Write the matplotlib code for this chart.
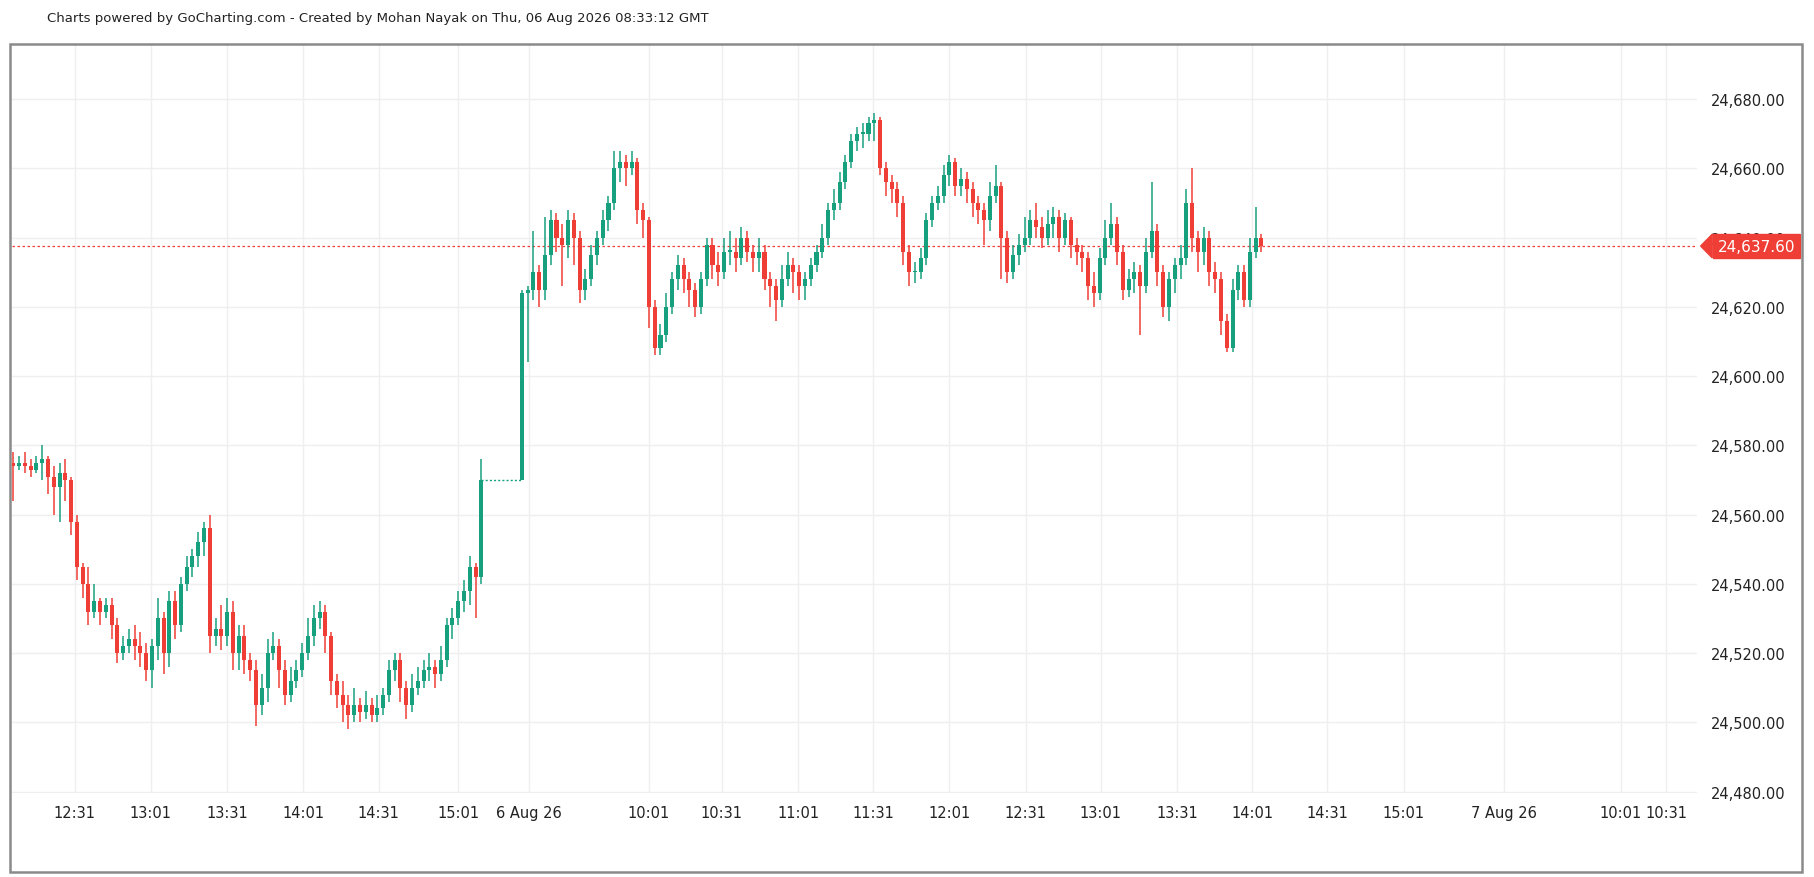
import matplotlib
matplotlib.use("Agg")
import matplotlib.pyplot as plt
from matplotlib.patches import Rectangle, Polygon
import matplotlib.transforms as mtransforms

# ---- Day 1 (5 Aug) candles ----
d1_open = [24575,24574,24575,24574,24573,24575,24576,24571,24568,24572,24570,24558,24545,24540,24532,24535,24532,24534,24528,24520,
           24522,24524,24522,24520,24515,24522,24530,24520,24535,24528,24540,24545,24548,24552,24556,24525,24527,24525,24532,24520,
           24525,24518,24515,24505,24510,24520,24522,24515,24508,24512,24515,24520,24525,24530,24532,24525,24512,24508,24505,24502,
           24505,24503,24505,24502,24504,24508,24515,24518,24510,24505,24510,24512,24515,24516,24514,24518,24528,24530,24535,24538,
           24545,24542]
d1_close = [24574,24575,24574,24573,24575,24576,24571,24568,24572,24570,24558,24545,24540,24532,24535,24532,24534,24528,24520,24522,
            24524,24522,24520,24515,24522,24530,24520,24535,24528,24540,24545,24548,24552,24556,24525,24527,24525,24532,24520,24525,
            24518,24515,24505,24510,24520,24522,24515,24508,24512,24515,24520,24525,24530,24532,24525,24512,24508,24505,24502,24505,
            24503,24505,24502,24504,24508,24515,24518,24510,24505,24510,24512,24515,24516,24514,24518,24528,24530,24535,24538,24545,
            24542,24570]
d1_high = [24578,24577,24578,24576,24577,24580,24577,24574,24575,24576,24571,24560,24546,24545,24540,24536,24536,24536,24530,24525,
           24527,24528,24526,24523,24524,24536,24532,24538,24538,24542,24548,24550,24555,24558,24560,24530,24534,24536,24535,24528,
           24528,24520,24518,24514,24524,24526,24524,24518,24516,24518,24523,24530,24534,24535,24534,24526,24514,24512,24508,24510,
           24507,24509,24507,24508,24510,24518,24520,24520,24512,24514,24516,24518,24520,24518,24522,24530,24533,24538,24541,24548,
           24546,24576]
d1_low = [24564,24573,24572,24571,24572,24570,24566,24560,24558,24564,24554,24541,24536,24528,24530,24528,24530,24524,24517,24518,
          24520,24518,24516,24512,24510,24518,24514,24516,24524,24526,24538,24542,24545,24548,24520,24522,24521,24522,24515,24515,
          24514,24512,24499,24502,24506,24518,24510,24505,24506,24510,24513,24518,24522,24527,24520,24508,24504,24500,24498,24500,
          24500,24501,24500,24500,24502,24506,24512,24506,24501,24503,24508,24510,24512,24510,24512,24516,24524,24528,24532,24534,
          24530,24540]

# ---- Day 2 (6 Aug) candles ----
d2_open = [24570,24624,24625,24630,24625,24635,24645,24640,24638,24645,24640,24625,24628,24635,24640,24645,24650,24660,24662,24660,
           24662,24648,24645,24620,24608,24612,24620,24628,24632,24628,24625,24620,24628,24638,24632,24630,24636,24636,24634,24640,
           24636,24634,24636,24628,24626,24622,24628,24632,24630,24626,24628,24632,24636,24640,24648,24650,24656,24662,24668,24670,
           24670,24673,24674,24660,24656,24654,24650,24636,24630,24630,24634,24645,24650,24652,24658,24662,24655,24657,24654,24650,
           24648,24645,24652,24655,24640,24630,24635,24638,24640,24645,24643,24640,24644,24646,24640,24645,24638,24636,24634,24626,
           24624,24634,24640,24644,24636,24625,24628,24630,24626,24636,24642,24630,24620,24628,24632,24634,24650,24640,24636,24640,
           24630,24628,24616,24608,24625,24630,24622,24636,24640]
d2_close = [24624,24625,24630,24625,24635,24645,24640,24638,24645,24640,24625,24628,24635,24640,24645,24650,24660,24662,24660,24662,
            24648,24645,24620,24608,24612,24620,24628,24632,24628,24625,24620,24628,24638,24632,24630,24636,24636,24634,24640,24636,
            24634,24636,24628,24626,24622,24628,24632,24630,24626,24628,24632,24636,24640,24648,24650,24656,24662,24668,24670,24670,
            24673,24674,24660,24656,24654,24650,24636,24630,24630,24634,24645,24650,24652,24658,24662,24655,24657,24654,24650,24648,
            24645,24652,24655,24640,24630,24635,24638,24640,24645,24643,24640,24644,24646,24640,24645,24638,24636,24634,24626,24624,
            24634,24640,24644,24636,24625,24628,24630,24626,24636,24642,24630,24620,24628,24632,24634,24650,24640,24636,24640,24630,
            24628,24616,24608,24625,24630,24622,24636,24640,24637.6]
d2_high = [24625,24626,24642,24632,24646,24648,24647,24644,24648,24647,24642,24631,24638,24642,24648,24652,24665,24665,24664,24665,
           24663,24650,24646,24622,24615,24624,24630,24635,24634,24630,24627,24630,24640,24640,24636,24640,24642,24640,24643,24642,
           24638,24640,24638,24630,24628,24632,24636,24634,24632,24630,24634,24638,24644,24650,24654,24659,24664,24670,24672,24673,
           24675,24676,24675,24662,24658,24656,24652,24638,24633,24637,24647,24652,24655,24661,24664,24663,24660,24659,24656,24652,
           24650,24656,24661,24656,24642,24638,24641,24646,24648,24650,24646,24648,24649,24648,24647,24646,24640,24638,24636,24630,
           24637,24645,24650,24646,24638,24631,24633,24632,24640,24656,24644,24632,24630,24634,24638,24654,24660,24642,24643,24642,
           24633,24630,24618,24628,24632,24632,24640,24649,24641]
d2_low = [24570,24604,24622,24620,24622,24632,24636,24626,24634,24632,24621,24622,24626,24632,24638,24642,24648,24656,24655,24658,
          24644,24640,24614,24606,24606,24610,24618,24625,24624,24620,24617,24618,24626,24628,24626,24628,24632,24630,24632,24633,
          24630,24630,24625,24620,24616,24620,24626,24624,24622,24622,24626,24630,24634,24638,24645,24648,24654,24660,24665,24666,
          24668,24668,24658,24652,24650,24646,24632,24626,24627,24628,24632,24643,24648,24650,24655,24652,24652,24650,24646,24644,
          24638,24642,24650,24628,24627,24628,24632,24636,24638,24640,24637,24638,24640,24636,24638,24634,24632,24630,24622,24620,
          24622,24632,24638,24632,24622,24623,24624,24612,24624,24634,24626,24617,24616,24624,24628,24632,24636,24630,24632,24626,
          24624,24612,24607,24607,24622,24620,24620,24634,24636]

last_price = 24637.6
y_ticks = [24480, 24500, 24520, 24540, 24560, 24580, 24600, 24620, 24640, 24660, 24680]
x_tick_labels = ["12:31", "13:01", "13:31", "14:01", "14:31", "15:01", "6 Aug 26", "10:01", "10:31", "11:01",
                 "11:31", "12:01", "12:31", "13:01", "13:31", "14:01", "14:31", "15:01", "7 Aug 26", "10:01", "10:31"]
x_tick_pos = [10.6, 23.8, 37.0, 50.2, 63.2, 77.0, 89.2, 110.0, 122.6, 135.8,
              148.8, 162.0, 175.2, 188.2, 201.4, 214.4, 227.4, 240.6, 258.0, 278.2, 286.0]

GREEN = "#17a07e"
RED = "#ef3e36"

# layout measured on a 1568x759 view of the 1814x878 target
W, H = 1568, 759
fig = plt.figure(figsize=(18.14, 8.78), dpi=100)
ax = fig.add_axes([10 / W, 1 - 686 / H, (1467 - 10) / W, (686 - 40) / H])

opens = d1_open + d2_open
closes = d1_close + d2_close
highs = d1_high + d2_high
lows = d1_low + d2_low
xs = list(range(len(d1_open))) + [88 + j for j in range(len(d2_open))]

for x, o, h, l, c in zip(xs, opens, highs, lows, closes):
    col = GREEN if c >= o else RED
    ax.vlines(x, l, h, color=col, lw=1.1, zorder=3)
    body = abs(c - o) if abs(c - o) > 0.4 else 0.4
    ax.bar(x, body, bottom=min(o, c), width=0.7, color=col, zorder=4, linewidth=0)

# gap connector
ax.plot([xs[len(d1_open) - 1], xs[len(d1_open)]], [d1_close[-1], d2_open[0]], ls=(0, (1.5, 1.5)),
        color=GREEN, lw=1, zorder=2)

ax.axhline(last_price, color=RED, ls=(0, (2, 2)), lw=0.9, zorder=2)

ax.set_xlim(-0.3, 291.4)
ax.set_ylim(24479.7, 24695.6)
ax.set_yticks(y_ticks)
ax.set_yticklabels([f"{v:,.2f}" for v in y_ticks])
ax.yaxis.tick_right()
ax.set_xticks(x_tick_pos)
ax.set_xticklabels(x_tick_labels)
ax.tick_params(axis="both", length=0, labelsize=10.5, colors="#222222")
ax.tick_params(axis="y", pad=10)
ax.tick_params(axis="x", pad=9)
ax.grid(True, color="#efefef", lw=1.0, zorder=0)
for s in ax.spines.values():
    s.set_visible(False)

# price tag
trans = mtransforms.blended_transform_factory(ax.transAxes, ax.transData)
ax.text(1.0 + 18 / 1457, last_price, "24,637.60", transform=trans, color="white", fontsize=11,
        va="center", ha="left", clip_on=False, zorder=6,
        bbox=dict(boxstyle="square,pad=0.3", fc=RED, ec=RED))
tri = Polygon([[1.0 + 3 / 1457, last_price], [1.0 + 13 / 1457, last_price + 3.4],
               [1.0 + 13 / 1457, last_price - 3.4]], closed=True, transform=trans,
              fc=RED, ec=RED, clip_on=False, zorder=6)
ax.add_patch(tri)

fig.patches.append(Rectangle((9 / W, 1 - 755 / H), (1558 - 9) / W, (755 - 39) / H, transform=fig.transFigure,
                             fill=False, ec="#8a8a8a", lw=1.8))
fig.text(41 / W, 1 - 16 / H, "Charts powered by GoCharting.com - Created by Mohan Nayak on Thu, 06 Aug 2026 08:33:12 GMT",
         fontsize=9.5, va="center", ha="left", color="#222222")

fig.savefig("out.png", dpi=100)
